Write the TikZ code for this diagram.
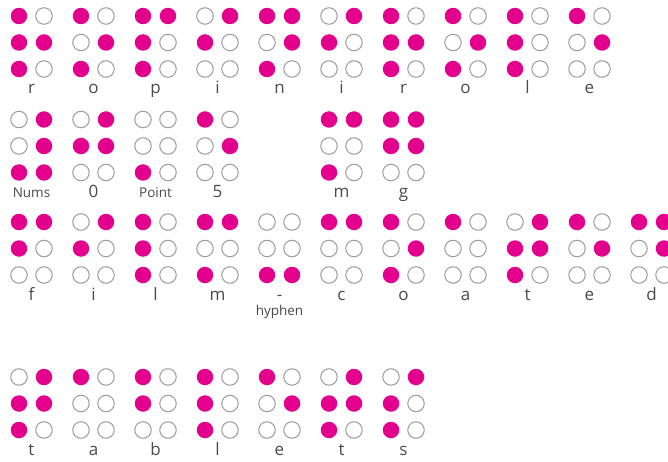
\documentclass[tikz,border=0pt]{standalone}
\usepackage{fontspec}
\setmainfont{Open Sans}
\usepackage{xcolor}
\usepackage{tikz}

\definecolor{brpink}{HTML}{E2008C}
\definecolor{brring}{HTML}{9C9C9C}
\definecolor{brtext}{HTML}{4A4A4A}

% six dots of one cell (bits of dots 1-6), then name, column, top of row
\def\brdots#1#2#3#4#5#6\relax#7#8#9{%
  \node[dot, b#1] (#7-1) at ({19+62*#8},{#9}) {};
  \node[dot, b#2] (#7-2) at ({19+62*#8},{#9+26.5}) {};
  \node[dot, b#3] (#7-3) at ({19+62*#8},{#9+53}) {};
  \node[dot, b#4] (#7-4) at ({44+62*#8},{#9}) {};
  \node[dot, b#5] (#7-5) at ({44+62*#8},{#9+26.5}) {};
  \node[dot, b#6] (#7-6) at ({44+62*#8},{#9+53}) {};
}
\newcommand{\brcell}[6][letter]{%
  \expandafter\brdots#5\relax{#2}{#3}{#4}
  \node[#1] (#2-lab) at ({31.5+62*#3},{#4+78}) {#6};
}

\begin{document}
\begin{tikzpicture}[
    x=1pt, y=-1pt,
    dot/.style={circle, inner sep=0pt, minimum size=16.5pt},
    b1/.style={fill=brpink},
    b0/.style={draw=brring, line width=1pt, fill=white},
    letter/.style={anchor=base, inner sep=0pt, text=brtext, font=\fontsize{17}{20}\selectfont},
    small/.style={anchor=base, inner sep=0pt, text=brtext, font=\fontsize{13.5}{16}\selectfont}
  ]
    \useasboundingbox (0,0) rectangle (668,462);
    \clip (0,0) rectangle (668,462);

    \foreach \c/\bits/\txt in {0/111010/r, 1/101010/o, 2/111100/p, 3/010100/i, 4/101110/n,
        5/010100/i, 6/111010/r, 7/101010/o, 8/111000/l, 9/100010/e} {
      \brcell{ra\c}{\c}{16}{\bits}{\txt}
    }

    \brcell[small]{rb0}{0}{119.5}{001111}{Nums}
    \brcell{rb1}{1}{119.5}{010110}{0}
    \brcell[small]{rb2}{2}{119.5}{001000}{Point}
    \brcell{rb3}{3}{119.5}{100010}{5}
    \brcell{rb5}{5}{119.5}{101100}{m}
    \brcell{rb6}{6}{119.5}{110110}{g}

    \foreach \c/\bits/\txt in {0/110100/f, 1/010100/i, 2/111000/l, 3/101100/m, 4/001001/-,
        5/100100/c, 6/101010/o, 7/100000/a, 8/011110/t, 9/100010/e, 10/100110/d} {
      \brcell{rc\c}{\c}{222}{\bits}{\txt}
    }
    \node[small] (rc4-sub) at ({31.5+62*4},315) {hyphen};

    \foreach \c/\bits/\txt in {0/011110/t, 1/100000/a, 2/110000/b, 3/111000/l,
        4/100010/e, 5/011110/t, 6/011100/s} {
      \brcell{rd\c}{\c}{377}{\bits}{\txt}
    }
  \end{tikzpicture}
\end{document}
